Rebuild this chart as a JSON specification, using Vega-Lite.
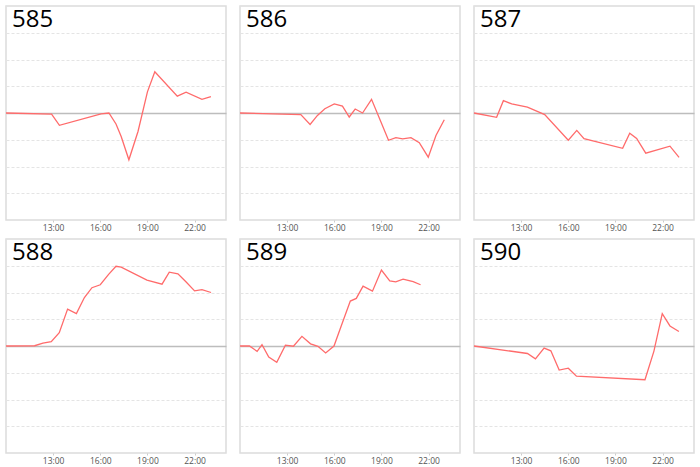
{
  "$schema": "https://vega.github.io/schema/vega-lite/v6.json",
  "padding": {"left": 2, "top": 5, "right": 0, "bottom": 0},
  "background": "white",
  "data": {
    "values": [
      {"id": 585, "t": 10, "v": 0},
      {"id": 585, "t": 12.9, "v": -0.04},
      {"id": 585, "t": 13.4, "v": -0.46},
      {"id": 585, "t": 16.05, "v": -0.03},
      {"id": 585, "t": 16.55, "v": 0},
      {"id": 585, "t": 17.0, "v": -0.41},
      {"id": 585, "t": 17.33, "v": -0.88},
      {"id": 585, "t": 17.82, "v": -1.75},
      {"id": 585, "t": 18.4, "v": -0.69},
      {"id": 585, "t": 19.0, "v": 0.79},
      {"id": 585, "t": 19.47, "v": 1.54},
      {"id": 585, "t": 20.9, "v": 0.63},
      {"id": 585, "t": 21.46, "v": 0.78},
      {"id": 585, "t": 22.47, "v": 0.51},
      {"id": 585, "t": 23.04, "v": 0.61},

      {"id": 586, "t": 10, "v": 0},
      {"id": 586, "t": 13.87, "v": -0.06},
      {"id": 586, "t": 14.46, "v": -0.43},
      {"id": 586, "t": 14.93, "v": -0.09},
      {"id": 586, "t": 15.4, "v": 0.16},
      {"id": 586, "t": 16.0, "v": 0.34},
      {"id": 586, "t": 16.52, "v": 0.26},
      {"id": 586, "t": 16.95, "v": -0.15},
      {"id": 586, "t": 17.33, "v": 0.15},
      {"id": 586, "t": 17.8, "v": 0},
      {"id": 586, "t": 18.37, "v": 0.51},
      {"id": 586, "t": 18.97, "v": -0.34},
      {"id": 586, "t": 19.45, "v": -1.02},
      {"id": 586, "t": 19.92, "v": -0.92},
      {"id": 586, "t": 20.35, "v": -0.97},
      {"id": 586, "t": 20.88, "v": -0.92},
      {"id": 586, "t": 21.41, "v": -1.11},
      {"id": 586, "t": 21.98, "v": -1.65},
      {"id": 586, "t": 22.47, "v": -0.84},
      {"id": 586, "t": 23.0, "v": -0.25},

      {"id": 587, "t": 10, "v": 0},
      {"id": 587, "t": 11.44, "v": -0.16},
      {"id": 587, "t": 11.87, "v": 0.46},
      {"id": 587, "t": 12.4, "v": 0.34},
      {"id": 587, "t": 13.4, "v": 0.22},
      {"id": 587, "t": 14.5, "v": -0.06},
      {"id": 587, "t": 16.0, "v": -1.02},
      {"id": 587, "t": 16.54, "v": -0.65},
      {"id": 587, "t": 17.0, "v": -0.96},
      {"id": 587, "t": 19.46, "v": -1.32},
      {"id": 587, "t": 19.91, "v": -0.76},
      {"id": 587, "t": 20.35, "v": -0.95},
      {"id": 587, "t": 20.93, "v": -1.5},
      {"id": 587, "t": 22.47, "v": -1.24},
      {"id": 587, "t": 23.05, "v": -1.66},

      {"id": 588, "t": 10, "v": 0},
      {"id": 588, "t": 11.82, "v": 0.01},
      {"id": 588, "t": 12.35, "v": 0.11},
      {"id": 588, "t": 12.88, "v": 0.16},
      {"id": 588, "t": 13.39, "v": 0.5},
      {"id": 588, "t": 13.92, "v": 1.38},
      {"id": 588, "t": 14.48, "v": 1.21},
      {"id": 588, "t": 14.99, "v": 1.81},
      {"id": 588, "t": 15.47, "v": 2.18},
      {"id": 588, "t": 16.0, "v": 2.29},
      {"id": 588, "t": 16.53, "v": 2.68},
      {"id": 588, "t": 17.0, "v": 2.98},
      {"id": 588, "t": 17.33, "v": 2.95},
      {"id": 588, "t": 18.97, "v": 2.46},
      {"id": 588, "t": 19.93, "v": 2.31},
      {"id": 588, "t": 20.39, "v": 2.76},
      {"id": 588, "t": 20.94, "v": 2.7},
      {"id": 588, "t": 21.45, "v": 2.4},
      {"id": 588, "t": 22.0, "v": 2.06},
      {"id": 588, "t": 22.47, "v": 2.11},
      {"id": 588, "t": 23.05, "v": 2.0},

      {"id": 589, "t": 10, "v": 0},
      {"id": 589, "t": 10.6, "v": 0},
      {"id": 589, "t": 11.09, "v": -0.2},
      {"id": 589, "t": 11.4, "v": 0.05},
      {"id": 589, "t": 11.83, "v": -0.41},
      {"id": 589, "t": 12.34, "v": -0.61},
      {"id": 589, "t": 12.89, "v": 0.03},
      {"id": 589, "t": 13.4, "v": -0.01},
      {"id": 589, "t": 13.94, "v": 0.36},
      {"id": 589, "t": 14.49, "v": 0.08},
      {"id": 589, "t": 14.96, "v": -0.01},
      {"id": 589, "t": 15.45, "v": -0.26},
      {"id": 589, "t": 15.98, "v": 0},
      {"id": 589, "t": 16.51, "v": 0.86},
      {"id": 589, "t": 17.02, "v": 1.68},
      {"id": 589, "t": 17.4, "v": 1.78},
      {"id": 589, "t": 17.83, "v": 2.24},
      {"id": 589, "t": 18.43, "v": 2.05},
      {"id": 589, "t": 19.0, "v": 2.84},
      {"id": 589, "t": 19.53, "v": 2.43},
      {"id": 589, "t": 19.91, "v": 2.4},
      {"id": 589, "t": 20.38, "v": 2.5},
      {"id": 589, "t": 21.02, "v": 2.41},
      {"id": 589, "t": 21.49, "v": 2.29},

      {"id": 590, "t": 10, "v": 0},
      {"id": 590, "t": 13.4, "v": -0.28},
      {"id": 590, "t": 13.91, "v": -0.48},
      {"id": 590, "t": 14.46, "v": -0.08},
      {"id": 590, "t": 14.89, "v": -0.18},
      {"id": 590, "t": 15.42, "v": -0.9},
      {"id": 590, "t": 16.0, "v": -0.83},
      {"id": 590, "t": 16.52, "v": -1.13},
      {"id": 590, "t": 20.88, "v": -1.26},
      {"id": 590, "t": 21.45, "v": -0.19},
      {"id": 590, "t": 21.98, "v": 1.21},
      {"id": 590, "t": 22.47, "v": 0.75},
      {"id": 590, "t": 23.04, "v": 0.54}
    ]
  },
  "facet": {
    "field": "id",
    "type": "ordinal",
    "header": null
  },
  "columns": 3,
  "bounds": "flush",
  "spacing": {"column": 14, "row": 19},
  "resolve": {"axis": {"x": "independent"}},
  "spec": {
    "width": 220,
    "height": 214,
    "layer": [
      {
        "mark": {"type": "line", "color": "#ff6b6b", "strokeWidth": 1.3},
        "encoding": {
          "x": {
            "field": "t",
            "type": "quantitative",
            "scale": {"domain": [10, 24], "nice": false, "zero": false},
            "axis": {
              "title": null,
              "values": [13, 16, 19, 22],
              "labelExpr": "datum.value + ':00'",
              "grid": false,
              "domain": false,
              "tickSize": 2,
              "tickColor": "#cccccc",
              "labelPadding": 1,
              "labelFont": "Open Sans",
              "labelFontSize": 8.5,
              "labelColor": "#555555"
            }
          },
          "y": {
            "field": "v",
            "type": "quantitative",
            "scale": {"domain": [-4, 4], "nice": false},
            "axis": {
              "title": null,
              "labels": false,
              "ticks": false,
              "domain": false,
              "grid": true,
              "values": [-4, -3, -2, -1, 0, 1, 2, 3, 4],
              "gridColor": {"condition": {"test": "datum.value === 0", "value": "#bdbdbd"}, "value": "#e4e4e4"},
              "gridDash": {"condition": {"test": "datum.value === 0", "value": []}, "value": [3, 2]},
              "gridWidth": {"condition": {"test": "datum.value === 0", "value": 1.5}, "value": 1}
            }
          }
        }
      },
      {
        "transform": [{"filter": "datum.t == 10"}],
        "mark": {
          "type": "text",
          "align": "left",
          "baseline": "top",
          "font": "Open Sans",
          "fontSize": 24,
          "color": "black",
          "dx": 6,
          "dy": 2
        },
        "encoding": {
          "x": {
            "datum": 10,
            "type": "quantitative",
            "scale": {"domain": [10, 24], "nice": false, "zero": false},
            "axis": {
              "title": null,
              "values": [13, 16, 19, 22],
              "labelExpr": "datum.value + ':00'",
              "grid": false,
              "domain": false,
              "tickSize": 2,
              "tickColor": "#cccccc",
              "labelPadding": 1,
              "labelFont": "Open Sans",
              "labelFontSize": 8.5,
              "labelColor": "#555555"
            }
          },
          "y": {
            "datum": 4,
            "type": "quantitative",
            "scale": {"domain": [-4, 4], "nice": false},
            "axis": {
              "title": null,
              "labels": false,
              "ticks": false,
              "domain": false,
              "grid": true,
              "values": [-4, -3, -2, -1, 0, 1, 2, 3, 4],
              "gridColor": {"condition": {"test": "datum.value === 0", "value": "#bdbdbd"}, "value": "#e4e4e4"},
              "gridDash": {"condition": {"test": "datum.value === 0", "value": []}, "value": [3, 2]},
              "gridWidth": {"condition": {"test": "datum.value === 0", "value": 1.5}, "value": 1}
            }
          },
          "text": {"field": "id", "type": "nominal"}
        }
      }
    ]
  },
  "config": {
    "view": {"stroke": "#dcdcdc", "strokeWidth": 1.5},
    "header": {"labels": false, "title": null, "labelFontSize": 0, "labelPadding": 0, "titlePadding": 0}
  }
}
